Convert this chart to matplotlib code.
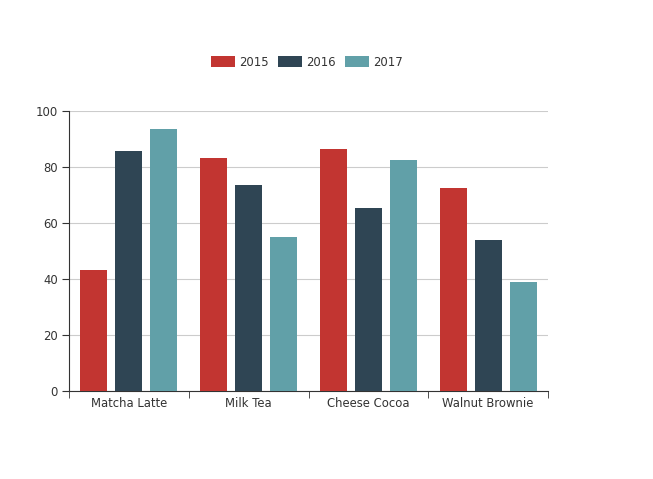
import numpy as np
import matplotlib.pyplot as plt
from matplotlib.patches import Patch

products = ['Matcha Latte', 'Milk Tea', 'Cheese Cocoa', 'Walnut Brownie']
years = ['2015', '2016', '2017']
v2015 = [43.3, 83.1, 86.4, 72.4]
v2016 = [85.8, 73.4, 65.2, 53.9]
v2017 = [93.7, 55.1, 82.5, 39.1]
colors = ['#c23531', '#2f4554', '#61a0a8']

fig = plt.figure(figsize=(6.53, 4.79), dpi=100)
ax = fig.add_axes([0.1057, 0.1837, 0.7335, 0.5846])

x = np.arange(len(products))
w = 0.225
gap = 0.067
offsets = [-(w + gap), 0, w + gap]
for vals, off, c in zip([v2015, v2016, v2017], offsets, colors):
    ax.bar(x + off, vals, width=w, color=c, zorder=3)

ax.set_xlim(-0.5, len(products) - 0.5)
ax.set_ylim(0, 100)
ax.set_yticks(range(0, 101, 20))
ax.set_xticks(x)
ax.set_xticklabels(products)
ax.set_xticks(np.arange(-0.5, len(products), 1), minor=True)
ax.tick_params(axis='x', which='major', length=0, pad=4, labelsize=8.4, labelcolor='#333333')
ax.tick_params(axis='x', which='minor', length=5, color='#333333', direction='out')
ax.tick_params(axis='y', length=5, color='#333333', labelsize=8.4, labelcolor='#333333', pad=3)
ax.grid(axis='y', color='#cccccc', linewidth=0.8, zorder=0)
for s in ['top', 'right']:
    ax.spines[s].set_visible(False)
ax.spines['left'].set_color('#333333')
ax.spines['bottom'].set_color('#333333')

handles = [Patch(facecolor=c, label=y) for c, y in zip(colors, years)]
fig.legend(handles=handles, loc='center', bbox_to_anchor=(0.47, 0.87), ncol=3,
           frameon=False, fontsize=8.4, handlelength=2.05, handleheight=1.1,
           handletextpad=0.35, columnspacing=0.8, labelcolor='#333333')

fig.savefig('out.png', dpi=100)
